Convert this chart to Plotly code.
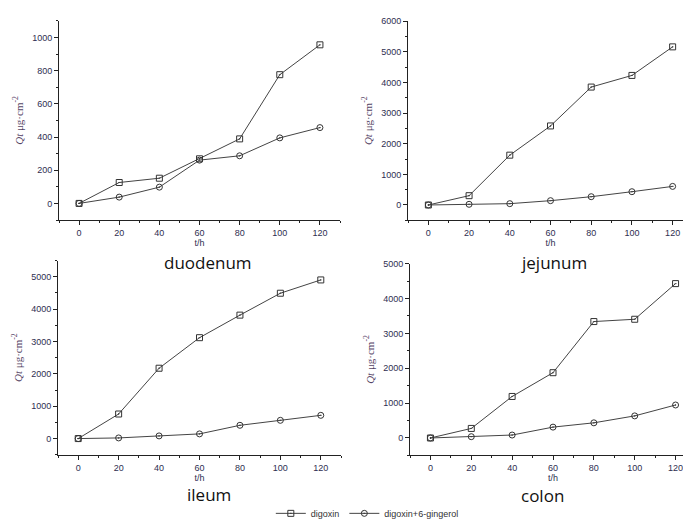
import plotly.graph_objects as go

hours = [0, 20, 40, 60, 80, 100, 120]
regions = ["duodenum", "jejunum", "ileum", "colon"]

duodenum_digoxin = [0, 126, 152, 269, 389, 776, 956]
duodenum_ginger = [0, 38, 98, 261, 287, 395, 457]
jejunum_digoxin = [0, 304, 1627, 2581, 3850, 4230, 5163]
jejunum_ginger = [0, 22, 43, 141, 271, 434, 607]
ileum_digoxin = [0, 759, 2174, 3118, 3815, 4492, 4903]
ileum_ginger = [0, 20, 82, 144, 410, 564, 718]
colon_digoxin = [0, 274, 1191, 1872, 3338, 3404, 4426]
colon_ginger = [0, 38, 85, 312, 435, 634, 946]

series = [
    (duodenum_digoxin, duodenum_ginger),
    (jejunum_digoxin, jejunum_ginger),
    (ileum_digoxin, ileum_ginger),
    (colon_digoxin, colon_ginger),
]

W, H = 691, 524
# pixel boxes: (left, right, top, bottom)
boxes = [(51, 332, 8, 209), (400, 685, 8.3, 209.3), (50, 333, 250, 446), (402, 688, 253, 446.7)]
yranges = [(-100, 1100.01), (-500, 6000.01), (-500, 5500.01), (-500, 5000.01)]
ydticks = [200, 1000, 1000, 1000]
title_pos = [(200, 252), (546, 252), (201, 486), (534, 487)]

line_col = "#444444"
tick_col = "#2e2e50"

fig = go.Figure()
for i, (dig, gin) in enumerate(series):
    sfx = "" if i == 0 else str(i + 1)
    fig.add_trace(go.Scatter(
        x=hours, y=dig, mode="lines+markers", name="digoxin",
        xaxis="x" + sfx, yaxis="y" + sfx, showlegend=(i == 0),
        line=dict(color=line_col, width=1),
        marker=dict(symbol="square-open-dot", size=6, color="#333333", line=dict(width=1)),
    ))
    fig.add_trace(go.Scatter(
        x=hours, y=gin, mode="lines+markers", name="digoxin+6-gingerol",
        xaxis="x" + sfx, yaxis="y" + sfx, showlegend=(i == 0),
        line=dict(color=line_col, width=1),
        marker=dict(symbol="circle-open-dot", size=6, color="#333333", line=dict(width=1)),
    ))

layout = dict(
    width=W, height=H,
    margin=dict(l=0, r=0, t=0, b=0),
    paper_bgcolor="white", plot_bgcolor="white",
    font=dict(family="Liberation Sans, Arial", size=9, color=tick_col),
    showlegend=True,
    legend=dict(orientation="h", x=0.52, xanchor="center", y=0.008, yanchor="bottom",
                font=dict(size=9, color="#333333"), bgcolor="rgba(0,0,0,0)",
                itemwidth=30, tracegroupgap=0),
)
annotations = []
for i in range(4):
    l, r, t, b = boxes[i]
    sfx = "" if i == 0 else str(i + 1)
    layout["xaxis" + sfx] = dict(
        domain=[l / W, r / W], anchor="y" + sfx, range=[-10, 130],
        tickmode="linear", tick0=0, dtick=20, ticks="outside", ticklen=4,
        minor=dict(ticks="outside", ticklen=2, dtick=10, tick0=0, tickcolor="#222222"),
        showline=True, linecolor="#222222", linewidth=1, tickcolor="#222222",
        showgrid=False, zeroline=False,
        title=dict(text="t/h", font=dict(size=9, color=tick_col), standoff=2),
    )
    y0, y1 = yranges[i]
    layout["yaxis" + sfx] = dict(
        domain=[(H - b) / H, (H - t) / H], anchor="x" + sfx, range=[y0, y1],
        tickmode="linear", tick0=0, dtick=ydticks[i], ticks="outside", ticklen=4,
        minor=dict(ticks="outside", ticklen=2, dtick=ydticks[i] / 2, tick0=0, tickcolor="#222222"),
        showline=True, linecolor="#222222", linewidth=1, tickcolor="#222222",
        showgrid=False, zeroline=False,
        title=dict(text="<i>Qt</i> μg·cm<sup>-2</sup>",
                   font=dict(family="Liberation Serif, Times New Roman", size=11, color="#554466"),
                   standoff=6),
    )
    cx, cy = title_pos[i]
    annotations.append(dict(
        text=regions[i], x=cx / W, y=(H - cy) / H, xref="paper", yref="paper",
        xanchor="center", yanchor="middle", showarrow=False,
        font=dict(family="Open Sans", size=17, color="#111111"),
    ))
layout["annotations"] = annotations
fig.update_layout(**layout)
fig.write_html("out.html")
